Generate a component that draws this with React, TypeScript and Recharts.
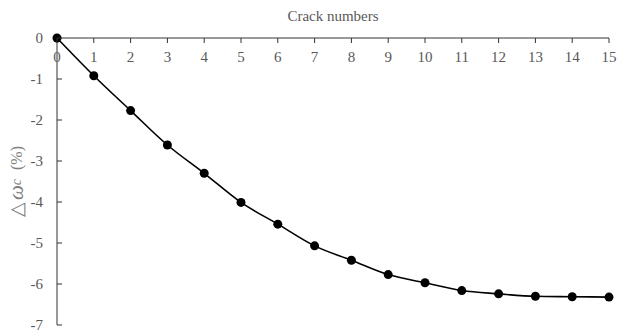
import { LineChart, Line, XAxis, YAxis } from 'recharts'

// crack count vs. relative change of the frequency (%)
const crackNumbers = [0, 1, 2, 3, 4, 5, 6, 7, 8, 9, 10, 11, 12, 13, 14, 15]
const deltaOmega = [0, -0.92, -1.77, -2.61, -3.3, -4.01, -4.54, -5.07, -5.42, -5.77, -5.97, -6.16, -6.24, -6.3, -6.31, -6.32]
const xTicks = [0, 1, 2, 3, 4, 5, 6, 7, 8, 9, 10, 11, 12, 13, 14, 15]
const yTicks = [0, -1, -2, -3, -4, -5, -6, -7]

const data = crackNumbers.map((n, i) => ({ n, d: deltaOmega[i] }))

const FONT = '"Liberation Serif", "Times New Roman", serif'
const AXIS = '#333333'
const TEXT = '#595959'

// ticks point inward, labels stay outside the plot
const XTick = ({ x, y, payload }: any) => (
  <g>
    <line x1={x} y1={y} x2={x} y2={y + 5} stroke={AXIS} strokeWidth={1} />
    <text x={x} y={y + 24} textAnchor="middle" fontSize={15} fontFamily={FONT} fill={TEXT}>
      {payload.value}
    </text>
  </g>
)

const YTick = ({ x, y, payload }: any) => (
  <g>
    <line x1={x} y1={y} x2={x + 5} y2={y} stroke={AXIS} strokeWidth={1} />
    <text x={x - 14} y={y + 5} textAnchor="end" fontSize={15} fontFamily={FONT} fill={TEXT}>
      {payload.value}
    </text>
  </g>
)

const XTitle = ({ viewBox }: any) => (
  <text
    x={viewBox.x + viewBox.width / 2}
    y={viewBox.y + 21}
    textAnchor="middle"
    fontSize={15}
    fontFamily={FONT}
    fill={TEXT}
  >
    Crack numbers
  </text>
)

const YTitle = ({ viewBox }: any) => {
  const cx = 16
  const cy = viewBox.y + viewBox.height / 2
  return (
    <text
      x={cx}
      y={cy}
      transform={`rotate(-90 ${cx} ${cy})`}
      textAnchor="middle"
      dominantBaseline="central"
      fontSize={16}
      fontFamily={FONT}
      fill="#808080"
    >
      <tspan fontSize={19}>△</tspan>
      <tspan fontStyle="italic" fontSize={21} dx={2}>ω</tspan>
      <tspan fontStyle="italic" fontSize={14}>c</tspan>
      <tspan dx={9}>(%)</tspan>
    </text>
  )
}

export default function App() {
  return (
    <div style={{ position: 'absolute', left: 0, top: 0, background: '#fff' }}>
      <LineChart width={618} height={330} data={data} margin={{ top: 0, right: 9, bottom: 5, left: 0 }}>
        <XAxis
          dataKey="n"
          type="number"
          orientation="top"
          domain={[0, 15]}
          ticks={xTicks}
          interval={0}
          height={38}
          tickSize={0}
          tickMargin={0}
          tickLine={false}
          axisLine={{ stroke: AXIS, strokeWidth: 1 }}
          tick={<XTick />}
          label={<XTitle />}
        />
        <YAxis
          type="number"
          domain={[-7, 0]}
          ticks={yTicks}
          interval={0}
          width={57}
          tickSize={0}
          tickMargin={0}
          tickLine={false}
          axisLine={{ stroke: AXIS, strokeWidth: 1 }}
          tick={<YTick />}
          label={<YTitle />}
        />
        <Line
          dataKey="d"
          type="monotone"
          stroke="#000"
          strokeWidth={1.6}
          dot={{ r: 4.5, fill: '#000', stroke: '#000', strokeWidth: 0 }}
          isAnimationActive={false}
        />
      </LineChart>
    </div>
  )
}
